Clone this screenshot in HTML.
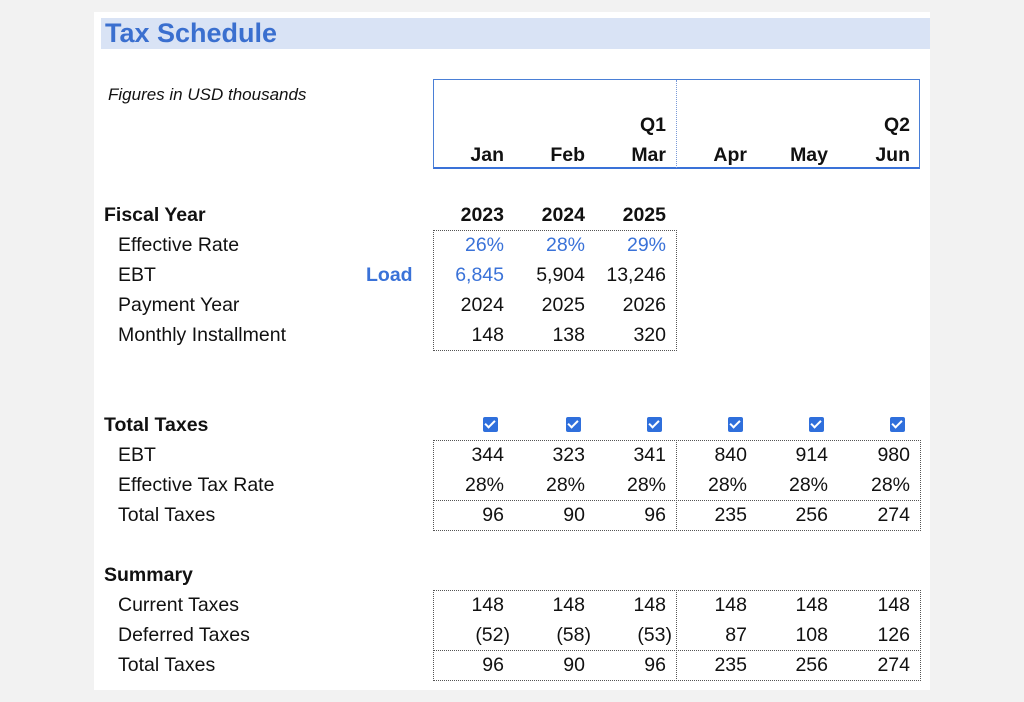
<!DOCTYPE html>
<html><head><meta charset="utf-8"><style>
body{margin:0;width:1024px;height:702px;background:#f2f2f2;font-family:"Liberation Sans",sans-serif;font-size:19.5px;color:#111;position:relative;overflow:hidden}
#p{position:absolute;left:94px;top:12px;width:836px;height:678px;background:#fff}
.a{position:absolute;line-height:30px;height:30px;white-space:nowrap}
.r{position:absolute;line-height:30px;height:30px;width:90px;text-align:right;white-space:nowrap}
.b{font-weight:bold}
.bl{color:#3a72d8}
.box{position:absolute;border:1px dotted #555;box-sizing:border-box}
.cb{position:absolute;width:15px;height:15px;background:#2f6fdc;border-radius:2px}
.cb:after{content:"";position:absolute;left:4px;top:1px;width:4px;height:8px;border:solid #fff;border-width:0 2px 2px 0;transform:rotate(45deg)}
</style></head><body>
<div id="p"></div>
<div style="position:absolute;left:101px;top:18px;width:829px;height:31px;background:#d9e3f5"></div>
<div class="a b" style="left:105px;top:18px;line-height:31px;font-size:27px;color:#3a6fcf">Tax Schedule</div>
<div class="a" style="left:108px;top:80px;font-style:italic;font-size:17px">Figures in USD thousands</div>
<!-- header box -->
<div style="position:absolute;left:433px;top:79px;width:487px;height:90px;border:1px solid #4a7fd6;border-bottom:2px solid #3a72d8;box-sizing:border-box"></div>
<div style="position:absolute;left:676px;top:80px;width:0;height:88px;border-left:1px dotted #7a9ad8"></div>
<div class="r b" style="left:576px;top:110px">Q1</div>
<div class="r b" style="left:820px;top:110px">Q2</div>
<div class="r b" style="left:414px;top:140px">Jan</div>
<div class="r b" style="left:495px;top:140px">Feb</div>
<div class="r b" style="left:576px;top:140px">Mar</div>
<div class="r b" style="left:657px;top:140px">Apr</div>
<div class="r b" style="left:738px;top:140px">May</div>
<div class="r b" style="left:820px;top:140px">Jun</div>
<!-- fiscal -->
<div class="a b" style="left:104px;top:200px">Fiscal Year</div>
<div class="r b" style="left:414px;top:200px">2023</div>
<div class="r b" style="left:495px;top:200px">2024</div>
<div class="r b" style="left:576px;top:200px">2025</div>
<div class="box" style="left:433px;top:230px;width:244px;height:121px"></div>
<div class="a" style="left:118px;top:230px">Effective Rate</div>
<div class="a" style="left:118px;top:260px">EBT</div>
<div class="a" style="left:118px;top:290px">Payment Year</div>
<div class="a" style="left:118px;top:320px">Monthly Installment</div>
<div class="a b bl" style="left:366px;top:260px">Load</div>
<div class="r bl" style="left:414px;top:230px">26%</div><div class="r bl" style="left:495px;top:230px">28%</div><div class="r bl" style="left:576px;top:230px">29%</div>
<div class="r bl" style="left:414px;top:260px">6,845</div><div class="r" style="left:495px;top:260px">5,904</div><div class="r" style="left:576px;top:260px">13,246</div>
<div class="r" style="left:414px;top:290px">2024</div><div class="r" style="left:495px;top:290px">2025</div><div class="r" style="left:576px;top:290px">2026</div>
<div class="r" style="left:414px;top:320px">148</div><div class="r" style="left:495px;top:320px">138</div><div class="r" style="left:576px;top:320px">320</div>
<!-- total taxes -->
<div class="a b" style="left:104px;top:410px">Total Taxes</div>
<div class="cb" style="left:483px;top:417px"></div><div class="cb" style="left:566px;top:417px"></div><div class="cb" style="left:647px;top:417px"></div><div class="cb" style="left:728px;top:417px"></div><div class="cb" style="left:809px;top:417px"></div><div class="cb" style="left:890px;top:417px"></div>
<div class="box" style="left:433px;top:440px;width:488px;height:91px"></div>
<div style="position:absolute;left:433px;top:500px;width:488px;border-top:1px dotted #555"></div>
<div style="position:absolute;left:676px;top:440px;height:91px;border-left:1px dotted #555"></div>
<div class="a" style="left:118px;top:440px">EBT</div>
<div class="a" style="left:118px;top:470px">Effective Tax Rate</div>
<div class="a" style="left:118px;top:500px">Total Taxes</div>
<div class="r" style="left:414px;top:440px">344</div><div class="r" style="left:495px;top:440px">323</div><div class="r" style="left:576px;top:440px">341</div><div class="r" style="left:657px;top:440px">840</div><div class="r" style="left:738px;top:440px">914</div><div class="r" style="left:820px;top:440px">980</div>
<div class="r" style="left:414px;top:470px">28%</div><div class="r" style="left:495px;top:470px">28%</div><div class="r" style="left:576px;top:470px">28%</div><div class="r" style="left:657px;top:470px">28%</div><div class="r" style="left:738px;top:470px">28%</div><div class="r" style="left:820px;top:470px">28%</div>
<div class="r" style="left:414px;top:500px">96</div><div class="r" style="left:495px;top:500px">90</div><div class="r" style="left:576px;top:500px">96</div><div class="r" style="left:657px;top:500px">235</div><div class="r" style="left:738px;top:500px">256</div><div class="r" style="left:820px;top:500px">274</div>
<!-- summary -->
<div class="a b" style="left:104px;top:560px">Summary</div>
<div class="box" style="left:433px;top:590px;width:488px;height:91px"></div>
<div style="position:absolute;left:433px;top:650px;width:488px;border-top:1px dotted #555"></div>
<div style="position:absolute;left:676px;top:590px;height:91px;border-left:1px dotted #555"></div>
<div class="a" style="left:118px;top:590px">Current Taxes</div>
<div class="a" style="left:118px;top:620px">Deferred Taxes</div>
<div class="a" style="left:118px;top:650px">Total Taxes</div>
<div class="r" style="left:414px;top:590px">148</div><div class="r" style="left:495px;top:590px">148</div><div class="r" style="left:576px;top:590px">148</div><div class="r" style="left:657px;top:590px">148</div><div class="r" style="left:738px;top:590px">148</div><div class="r" style="left:820px;top:590px">148</div>
<div class="r" style="left:420px;top:620px">(52)</div><div class="r" style="left:501px;top:620px">(58)</div><div class="r" style="left:582px;top:620px">(53)</div><div class="r" style="left:657px;top:620px">87</div><div class="r" style="left:738px;top:620px">108</div><div class="r" style="left:820px;top:620px">126</div>
<div class="r" style="left:414px;top:650px">96</div><div class="r" style="left:495px;top:650px">90</div><div class="r" style="left:576px;top:650px">96</div><div class="r" style="left:657px;top:650px">235</div><div class="r" style="left:738px;top:650px">256</div><div class="r" style="left:820px;top:650px">274</div>
</body></html>
